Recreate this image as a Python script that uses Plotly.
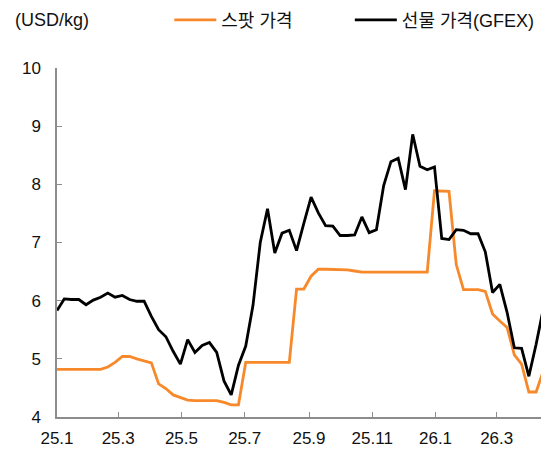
import pandas as pd
import plotly.graph_objects as go

# weekly observations from 2025-01-01
dates = pd.date_range("2025-01-01", periods=68, freq="7D")

spot = [4.82, 4.82, 4.82, 4.82, 4.82, 4.82, 4.82, 4.86, 4.94, 5.04,
        5.04, 5.00, 4.97, 4.93, 4.57, 4.49, 4.38, 4.33, 4.29, 4.28,
        4.28, 4.28, 4.28, 4.25, 4.21, 4.21, 4.94, 4.94, 4.94, 4.94,
        4.94, 4.94, 4.94, 6.20, 6.20, 6.42, 6.54, 6.54, 6.54, 6.54,
        6.53, 6.51, 6.49, 6.49, 6.49, 6.49, 6.49, 6.49, 6.49, 6.49,
        6.49, 6.49, 7.89, 7.88, 7.88, 6.62, 6.19, 6.19, 6.19, 6.16,
        5.77, 5.65, 5.54, 5.07, 4.91, 4.43, 4.43, 4.80]

futures = [5.83, 6.03, 6.02, 6.02, 5.93, 6.01, 6.06, 6.13, 6.06, 6.09,
           6.02, 5.99, 5.99, 5.73, 5.50, 5.38, 5.13, 4.91, 5.33, 5.11,
           5.23, 5.28, 5.11, 4.62, 4.38, 4.89, 5.22, 5.92, 7.00, 7.58,
           6.82, 7.16, 7.21, 6.86, 7.33, 7.78, 7.51, 7.29, 7.28, 7.12,
           7.12, 7.13, 7.44, 7.17, 7.22, 7.98, 8.39, 8.45, 7.91, 8.86,
           8.31, 8.25, 8.30, 7.07, 7.05, 7.22, 7.21, 7.15, 7.15, 6.84,
           6.14, 6.28, 5.80, 5.19, 5.18, 4.70, 5.25, 5.87]

tick_dates = ["2025-01-01", "2025-03-01", "2025-05-01", "2025-07-01",
              "2025-09-01", "2025-11-01", "2026-01-01", "2026-03-01"]
tick_text = ["25.1", "25.3", "25.5", "25.7", "25.9", "25.11", "26.1", "26.3"]

font_family = "Liberation Sans, Noto Sans CJK KR, sans-serif"
axis_grey = "#8c8c8c"

fig = go.Figure()
fig.add_trace(go.Scatter(x=dates, y=spot, mode="lines", name="스팟 가격",
                         line=dict(color="#F7892B", width=2.8),
                         legend="legend", showlegend=True))
fig.add_trace(go.Scatter(x=dates, y=futures, mode="lines", name="선물 가격(GFEX)",
                         line=dict(color="#000000", width=2.8),
                         legend="legend2", showlegend=True))

fig.update_layout(
    width=541, height=456,
    margin=dict(l=57, r=0, t=68, b=39, autoexpand=False),
    paper_bgcolor="white", plot_bgcolor="white",
    font=dict(family=font_family, size=17, color="#111111"),
    showlegend=True,
    legend=dict(x=0.232, y=1.137, xanchor="left", yanchor="middle",
                orientation="h", font=dict(size=18), bgcolor="rgba(0,0,0,0)",
                itemwidth=42, visible=True),
    legend2=dict(x=0.605, y=1.137, xanchor="left", yanchor="middle",
                 orientation="h", font=dict(size=18), bgcolor="rgba(0,0,0,0)",
                 itemwidth=42, visible=True),
    annotations=[dict(text="(USD/kg)", xref="paper", yref="paper",
                      x=-0.09, y=1.137, xanchor="left", yanchor="middle",
                      showarrow=False, font=dict(size=18))],
)

fig.update_xaxes(
    type="date", range=["2025-01-01", "2026-04-12 17:00"],
    tickvals=tick_dates, ticktext=tick_text,
    showgrid=False, zeroline=False, automargin=False,
    showline=True, linecolor=axis_grey, linewidth=1.5,
    ticks="inside", ticklen=5, tickcolor=axis_grey, tickwidth=1.3,
    ticklabelstandoff=5,
)
fig.update_yaxes(
    range=[4, 10], tickvals=[4, 5, 6, 7, 8, 9, 10],
    showgrid=False, zeroline=False, automargin=False,
    showline=True, linecolor=axis_grey, linewidth=1.5,
    ticks="inside", ticklen=5, tickcolor=axis_grey, tickwidth=1.3,
    ticklabelstandoff=11,
)

# the page's default body margin would shift the chart by 8px
fig.write_html("out.html", config={"displayModeBar": False},
               post_script="document.body.style.margin='0';")
